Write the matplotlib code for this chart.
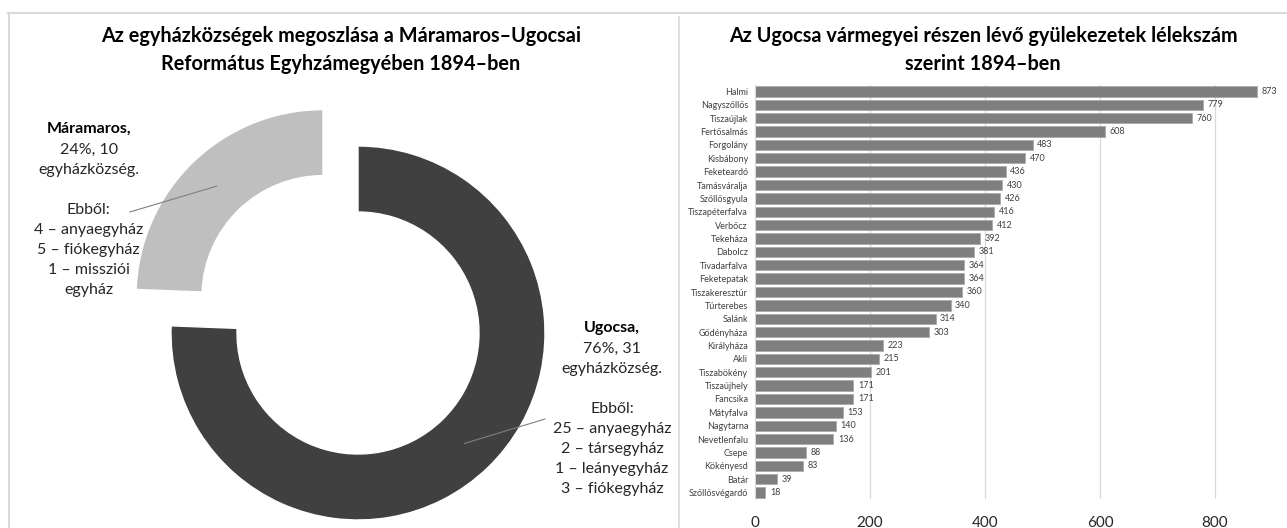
import numpy as np
import matplotlib
matplotlib.use("Agg")
from matplotlib import pyplot as plt
from matplotlib.lines import Line2D

# -----------------------------
# Data
# -----------------------------
regions = ["Máramaros", "Ugocsa"]
region_counts = [10, 31]
region_pcts = ["24%", "76%"]
maramaros_breakdown = ["4 – anyaegyház", "5 – fiókegyház", "1 – missziói\negyház"]
ugocsa_breakdown = ["25 – anyaegyház", "2 – társegyház", "1 – leányegyház", "3 – fiókegyház"]

villages = ["Halmi", "Nagyszőllős", "Tiszaújlak", "Fertősalmás", "Forgolány",
            "Kisbábony", "Feketeardó", "Tamásváralja", "Szőllősgyula",
            "Tiszapéterfalva", "Verbőcz", "Tekeháza", "Dabolcz", "Tivadarfalva",
            "Feketepatak", "Tiszakeresztúr", "Túrterebes", "Salánk", "Gődényháza",
            "Királyháza", "Akli", "Tiszabökény", "Tiszaújhely", "Fancsika",
            "Mátyfalva", "Nagytarna", "Nevetlenfalu", "Csepe", "Kökényesd",
            "Batár", "Szőllősvégardó"]
souls = [873, 779, 760, 608, 483, 470, 436, 430, 426, 416, 412, 392, 381, 364,
         364, 360, 340, 314, 303, 223, 215, 201, 171, 171, 153, 140, 136, 88,
         83, 39, 18]

plt.rcParams["font.family"] = ["Lato", "DejaVu Sans"]

W, H = 1287, 528
fig = plt.figure(figsize=(W / 100, H / 100), dpi=100)

# -----------------------------
# Frame lines
# -----------------------------
frame = "#D9D9D9"
fig.add_artist(Line2D([8 / W, 1], [1 - 13 / H, 1 - 13 / H], color=frame, lw=1.5))
fig.add_artist(Line2D([9 / W, 9 / W], [0, 1 - 13 / H], color=frame, lw=1.5))
fig.add_artist(Line2D([679 / W, 679 / W], [0, 1 - 17 / H], color=frame, lw=1.2))

# -----------------------------
# Titles
# -----------------------------
fig.text(341 / W, 1 - 50 / H,
         "Az egyházközségek megoszlása a Máramaros–Ugocsai\nReformátus Egyhzámegyében 1894–ben",
         ha="center", va="center", fontsize=14.3, weight="bold", linespacing=1.55)
fig.text(983 / W, 1 - 50 / H,
         "Az Ugocsa vármegyei részen lévő gyülekezetek lélekszám\nszerint 1894–ben",
         ha="center", va="center", fontsize=14.3, weight="bold", linespacing=1.55)

# -----------------------------
# Donut chart
# -----------------------------
R = 187
cx, cy = 358, 333
half = 280
ax1 = fig.add_axes([(cx - half) / W, (H - cy - half) / H, 2 * half / W, 2 * half / H])

explode = [0.27, 0]
wedges, _ = ax1.pie(region_counts, startangle=90, counterclock=True,
                    colors=["#BFBFBF", "#404040"], explode=explode, radius=1,
                    wedgeprops=dict(width=0.353, edgecolor="white", linewidth=1))
ax1.set_xlim(-half / R, half / R)
ax1.set_ylim(-half / R, half / R)
ax1.axis("off")

texts = [
    (-1.44, 1.13, (-1.22, 0.647), maramaros_breakdown),
    (1.358, 0.064, (1.0, -0.46), ugocsa_breakdown),
]
for i, w in enumerate(wedges):
    tx, ty, (lx, ly), parts = texts[i]
    mid = np.deg2rad((w.theta1 + w.theta2) / 2)
    sx, sy = explode[i] * np.cos(mid), explode[i] * np.sin(mid)
    px, py = sx + 0.82 * np.cos(mid), sy + 0.82 * np.sin(mid)
    ax1.plot([px, lx], [py, ly], color="#7F7F7F", lw=0.8)
    ax1.text(tx, ty, regions[i] + ",", ha="center", va="top",
             fontsize=11.5, weight="bold")
    body = "%s, %d\negyházközség.\n\nEbből:\n%s" % (
        region_pcts[i], region_counts[i], "\n".join(parts))
    ax1.text(tx, ty - 21 / R, body, ha="center", va="top",
             fontsize=11.5, linespacing=1.55, color="#262626")

# -----------------------------
# Bar chart
# -----------------------------
px_per = 0.575
top, bottom = 84.7, 499.3
ax2 = fig.add_axes([755 / W, (H - bottom) / H, 1000 * px_per / W, (bottom - top) / H])
y = np.arange(len(villages))
ax2.barh(y, souls, height=0.78, color="#7F7F7F", edgecolor="#A6A6A6", linewidth=0.5)
ax2.set_ylim(len(villages) - 0.5, -0.5)
ax2.set_xlim(0, 1000)
ax2.set_yticks(y)
ax2.set_yticklabels(villages, fontsize=6.5, color="#404040")
ax2.set_xticks([0, 200, 400, 600, 800, 1000])
ax2.set_xticklabels(["0", "200", "400", "600", "800", ""], fontsize=11, color="#262626")
ax2.tick_params(length=0, axis="both")
ax2.tick_params(axis="x", pad=12)
ax2.tick_params(axis="y", pad=5)
ax2.grid(axis="x", color="#D9D9D9", lw=0.9)
ax2.set_axisbelow(True)
for s in ["top", "right", "bottom"]:
    ax2.spines[s].set_visible(False)
ax2.spines["left"].set_color("#D9D9D9")
for yi, v in zip(y, souls):
    ax2.text(v + 8, yi, str(v), va="center", ha="left", fontsize=6.5, color="#404040")

fig.savefig("out.png", dpi=100)
